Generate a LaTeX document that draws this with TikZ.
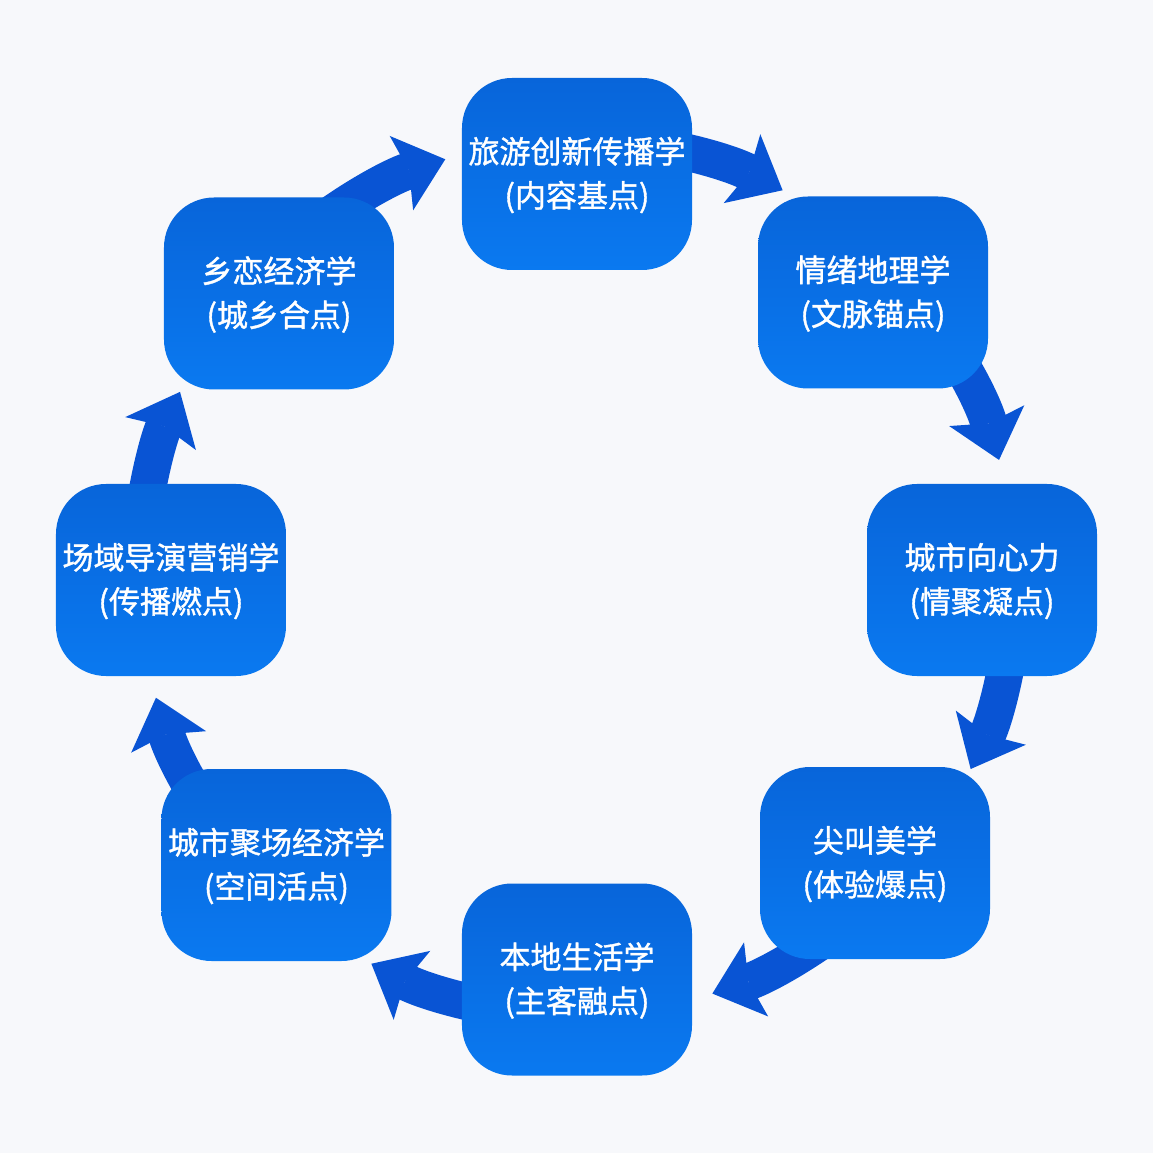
\documentclass[tikz,border=0pt]{standalone}
\usepackage{fontspec}
\newfontfamily\cjk[FakeBold=1.2]{Noto Sans CJK SC}
\usetikzlibrary{arrows.meta}
\definecolor{bgc}{HTML}{F7F8FB}
\definecolor{boxtop}{HTML}{0865DA}
\definecolor{boxbot}{HTML}{0A79F0}
\definecolor{arrowc}{HTML}{0954D4}
\begin{document}
\begin{tikzpicture}[x=1pt,y=1pt,
  box/.style={rounded corners=50pt, minimum width=230pt, minimum height=192pt,
    top color=boxtop, bottom color=boxbot, draw=none, text=white,
    font=\cjk\fontsize{31}{44}\selectfont, align=center, inner sep=0pt,
    text depth=4pt},
  flow/.style={draw=arrowc, line width=37pt,
    -{Stealth[length=46pt,width=78pt,inset=8pt,line width=0pt]}}]
\fill[bgc] (-577,-576) rectangle (576,577);
\useasboundingbox (-577,-576) rectangle (576,577);
% arc start points (hidden under the source boxes)
\coordinate (s81) at (130:438);
\coordinate (s12) at (85:438);
\coordinate (s23) at (40:438);
\coordinate (s34) at (-5:438);
\coordinate (s45) at (-50:438);
\coordinate (s56) at (-95:438);
\coordinate (s67) at (-140:438);
\coordinate (s78) at (175:438);
% connectors
\draw[flow] (s81) arc[start angle=130, end angle=107.5, radius=438];
\draw[flow] (s12) arc[start angle=85, end angle=62, radius=438];
\draw[flow] (s23) arc[start angle=40, end angle=15.5, radius=438];
\draw[flow] (s34) arc[start angle=-5, end angle=-26, radius=438];
\draw[flow] (s45) arc[start angle=-50, end angle=-72, radius=438];
\draw[flow] (s56) arc[start angle=-95, end angle=-118, radius=438];
\draw[flow] (s67) arc[start angle=-140, end angle=-164, radius=438];
\draw[flow] (s78) arc[start angle=175, end angle=155, radius=438];
% boxes
\node[box] (n1) at (0,403) {旅游创新传播学\\(内容基点)};
\node[box] (n2) at (296,284.5) {情绪地理学\\(文脉锚点)};
\node[box] (n3) at (405,-3) {城市向心力\\(情聚凝点)};
\node[box] (n4) at (298,-286) {尖叫美学\\(体验爆点)};
\node[box] (n5) at (0,-402.5) {本地生活学\\(主客融点)};
\node[box] (n6) at (-300.5,-288) {城市聚场经济学\\(空间活点)};
\node[box] (n7) at (-406,-3) {场域导演营销学\\(传播燃点)};
\node[box] (n8) at (-298,283.5) {乡恋经济学\\(城乡合点)};
\end{tikzpicture}
\end{document}
